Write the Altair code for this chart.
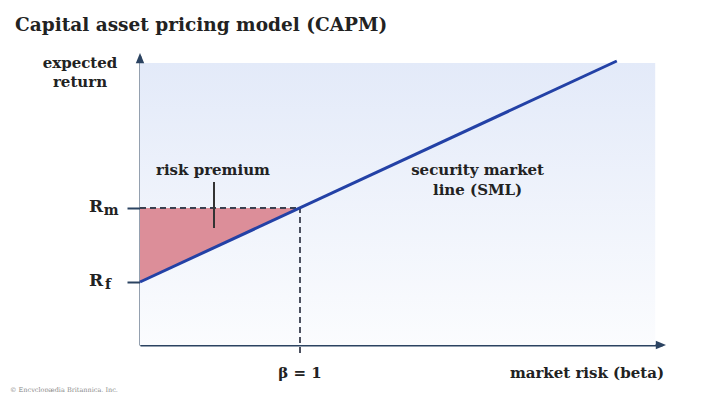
import altair as alt
import pandas as pd

TITLE = "Capital asset pricing model (CAPM)"
FONT = "DejaVu Serif"
INK = "#222222"
AXIS = "#2b4361"

# model values (beta on x, expected return on y)
RF = 6.3
RM = 13.7
BETA_M = 1.0
sml_beta = [0.0, 2.98]
sml_return = [6.3, 28.4]
prem_beta = [0.0, 1.0]
prem_low = [6.3, 13.7]
prem_high = [13.7, 13.7]
y_tick_values = [RF, RM]

X_MAX = 3.2625
Y_MAX = 28.9

xs = alt.Scale(domain=[0, X_MAX], nice=False, zero=False)
ys = alt.Scale(domain=[0, Y_MAX], nice=False, zero=False)
xaxis = alt.Axis(title=None, labels=False, ticks=False, grid=False, domain=True,
                 domainColor=AXIS, domainWidth=2, values=[0.0])
yaxis = alt.Axis(title=None, labels=False, ticks=True, grid=False, domain=True,
                 domainColor=AXIS, domainWidth=2, values=y_tick_values,
                 tickColor=AXIS, tickWidth=2, tickSize=13)

panel_df = pd.DataFrame({"x": [0.0], "x2": [3.22], "y": [0.0], "y2": [28.2]})
panel = alt.Chart(panel_df).mark_rect(
    color=alt.Gradient(
        gradient="linear",
        stops=[alt.GradientStop(color="#fbfcfe", offset=0),
               alt.GradientStop(color="#e3eaf9", offset=1)],
        x1=0, x2=0, y1=1, y2=0,
    )
).encode(
    x=alt.X("x:Q", scale=xs, axis=xaxis), x2="x2",
    y=alt.Y("y:Q", scale=ys, axis=yaxis), y2="y2",
)

prem_df = pd.DataFrame({"b": prem_beta, "lo": prem_low, "hi": prem_high})
premium = alt.Chart(prem_df).mark_area(color="#dc8e99", opacity=1).encode(
    x=alt.X("b:Q", scale=xs), y=alt.Y("lo:Q", scale=ys), y2="hi"
)

hdash = alt.Chart(pd.DataFrame({"x": [0.0], "x2": [BETA_M], "y": [RM]})).mark_rule(
    color="#3a3f4f", strokeDash=[6, 4], strokeWidth=1.8
).encode(x=alt.X("x:Q", scale=xs), x2="x2", y=alt.Y("y:Q", scale=ys))
vdash = alt.Chart(pd.DataFrame({"x": [BETA_M], "y": [-0.8], "y2": [RM]})).mark_rule(
    color="#3a3f4f", strokeDash=[6, 4], strokeWidth=1.8
).encode(x=alt.X("x:Q", scale=xs), y=alt.Y("y:Q", scale=ys), y2="y2")

sml_df = pd.DataFrame({"b": sml_beta, "r": sml_return})
sml = alt.Chart(sml_df).mark_line(color="#2341a6", strokeWidth=3).encode(
    x=alt.X("b:Q", scale=xs), y=alt.Y("r:Q", scale=ys)
)

pointer = alt.Chart(pd.DataFrame({"x": [0.4625], "y": [16.3], "y2": [11.7]})).mark_rule(
    color="#333333", strokeWidth=2
).encode(x=alt.X("x:Q", scale=xs), y=alt.Y("y:Q", scale=ys), y2="y2")

ARROW = "M0,-1L0.7,0.7L-0.7,0.7Z"
y_arrow = alt.Chart(pd.DataFrame({"x": [0.0], "y": [28.6]})).mark_point(
    shape=ARROW, filled=True, size=144, color=AXIS, opacity=1
).encode(x=alt.X("x:Q", scale=xs), y=alt.Y("y:Q", scale=ys))
x_arrow = alt.Chart(pd.DataFrame({"x": [3.25], "y": [0.0]})).mark_point(
    shape=ARROW, filled=True, size=144, color=AXIS, opacity=1, angle=90
).encode(x=alt.X("x:Q", scale=xs), y=alt.Y("y:Q", scale=ys))


def label(text, x, y, size=15, align="center", baseline="middle", color=INK,
          weight="bold", **kw):
    df = pd.DataFrame({"t": [text], "x": [x], "y": [y]})
    return alt.Chart(df).mark_text(
        font=FONT, fontSize=size, fontWeight=weight, align=align,
        baseline=baseline, color=color, **kw
    ).encode(x=alt.X("x:Q", scale=xs), y=alt.Y("y:Q", scale=ys), text="t:N")


texts = [
    label("expected\nreturn", -0.375, 28.2, size=15, lineBreak="\n", lineHeight=19),
    label("risk premium", 0.456, 17.5, size=15),
    label("security market\nline (SML)", 2.11, 17.5, size=15, lineBreak="\n", lineHeight=20),
    label("R", -0.275, 13.8, size=17),
    label("m", -0.18, 13.4, size=14),
    label("R", -0.275, 6.4, size=17),
    label("f", -0.2, 6.0, size=14),
    label("β = 1", 1.0, -2.8, size=15),
    label("market risk (beta)", 3.275, -2.8, size=15, align="right"),
    label("© Encyclopædia Britannica, Inc.", -0.8125, -4.45, size=6.5,
          align="left", color="#8a8a8a", weight="normal"),
]

chart = alt.layer(panel, premium, hdash, vdash, sml, pointer, y_arrow, x_arrow, *texts).properties(
    width=522, height=289,
    title=alt.TitleParams(TITLE, anchor="start", frame="group", font=FONT, fontSize=18.5,
                          fontWeight="bold", color=INK, dx=-125, offset=19),
    autosize=alt.AutoSizeParams(type="none"),
    padding={"left": 132, "top": 48, "right": 30, "bottom": 47},
    background="white",
).configure_view(strokeWidth=0)

chart.save("out.html", embed_options={"renderer": "svg", "actions": False})
